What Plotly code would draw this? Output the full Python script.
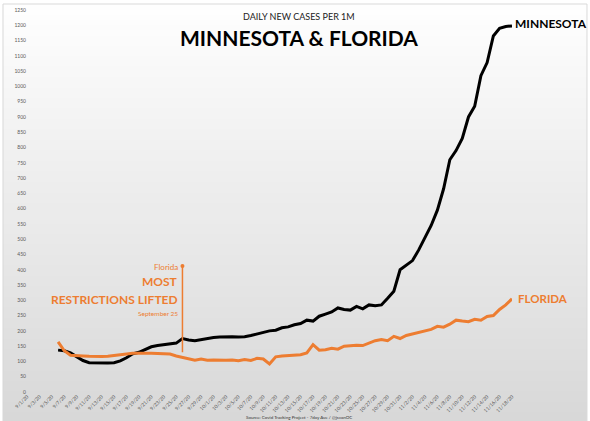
import plotly.graph_objects as go
import pandas as pd

start_date = "2020-09-06"
minnesota = [137, 135, 128, 115, 103, 96, 95, 95, 95, 96, 102, 112, 125, 130, 140, 148, 152, 155, 158, 160,
             175, 170, 168, 172, 175, 178, 180, 181, 181, 180, 181, 185, 190, 195, 200, 202, 210, 213, 220, 224,
             235, 232, 248, 255, 262, 275, 270, 268, 280, 272, 285, 282, 285, 307, 330, 400, 415, 430, 465, 505,
             545, 595, 665, 760, 790, 830, 900, 935, 1035, 1078, 1165, 1190, 1196, 1198]
florida = [164, 135, 120, 118, 118, 117, 116, 116, 117, 120, 122, 126, 127, 127, 128, 127, 126, 125, 124, 118,
           113, 108, 104, 108, 104, 105, 104, 104, 105, 102, 106, 103, 110, 108, 92, 115, 118, 120, 121, 122,
           128, 155, 137, 138, 143, 140, 150, 152, 153, 152, 160, 168, 172, 168, 182, 175, 185, 190, 195, 200,
           205, 215, 212, 222, 235, 232, 230, 238, 235, 247, 250, 270, 285, 305]
dates = pd.date_range(start_date, periods=len(minnesota), freq="D")

axis_start = "2020-09-01"
axis_end = "2020-11-18"
y_ticks = list(range(0, 1251, 50))
event_date = "2020-09-26"
event_top = 412
event_bottom = 130

ORANGE = "#ED7D31"
FONT = "Lato, 'Open Sans', sans-serif"

fig = go.Figure()
fig.add_trace(go.Scatter(x=dates, y=minnesota, mode="lines", name="Minnesota",
                         line=dict(color="#000000", width=3)))
fig.add_trace(go.Scatter(x=dates, y=florida, mode="lines", name="Florida",
                         line=dict(color=ORANGE, width=3)))

# chart-area background: gradient (white -> light gray) inside a thin border
shapes = []
bx0, bx1 = -0.0495, 1.1546
by0, by1 = -0.08, 1.0157
n = 40
for i in range(n):
    t = i / (n - 1)
    c = int(round(254 - (254 - 216) * t))
    y1 = by1 - (by1 - by0) * i / n
    y0 = by1 - (by1 - by0) * (i + 1) / n
    shapes.append(dict(type="rect", xref="paper", yref="paper", x0=bx0, x1=bx1, y0=y0 - 0.002, y1=y1,
                       fillcolor=f"rgb({c},{c},{c})", line=dict(width=0), layer="below"))
shapes.append(dict(type="rect", xref="paper", yref="paper", x0=bx0, x1=bx1, y0=by0, y1=by1,
                   fillcolor="rgba(0,0,0,0)", line=dict(width=1, color="#d9d9d9"), layer="below"))
# event line
shapes.append(dict(type="line", xref="x", yref="y", x0=event_date, x1=event_date,
                   y0=event_bottom, y1=event_top, line=dict(color=ORANGE, width=1.5)))

fig.add_trace(go.Scatter(x=[event_date], y=[event_top], mode="markers",
                         marker=dict(color=ORANGE, size=4), hoverinfo="skip"))

def note(text, x, y, size, color, xref="paper", yref="paper", xanchor="center", xshift=0):
    return dict(text=text, xref=xref, yref=yref, x=x, y=y, xanchor=xanchor, yanchor="middle",
                xshift=xshift, showarrow=False, font=dict(size=size, color=color, family=FONT))

annotations = [
    note("DAILY NEW CASES PER 1M", 0.561, 0.982, 9, "#222222"),
    note("<b>MINNESOTA & FLORIDA</b>", 0.561, 0.927, 21, "#000000"),
    note("<b>MINNESOTA</b>", axis_end, 1205, 12, "#000000", "x", "y", "left", 1),
    note("<b>FLORIDA</b>", axis_end, 307, 11.5, ORANGE, "x", "y", "left", 4),
    note("Florida", event_date, 408, 8, ORANGE, "x", "y", "right", -2),
    note("<b>MOST</b>", event_date, 362, 12, ORANGE, "x", "y", "right", -2),
    note("<b>RESTRICTIONS LIFTED</b>", event_date, 303, 12, ORANGE, "x", "y", "right", -2),
    note("September 25", event_date, 258, 6.5, ORANGE, "x", "y", "right", -2),
    note("Source: Covid Tracking Project - 7day Ave / @jsvanOC", 0.561, -0.068, 4.5, "#333333"),
]

fig.update_layout(
    width=590, height=421,
    margin=dict(l=27, r=78, t=10, b=29),
    paper_bgcolor="#ffffff", plot_bgcolor="rgba(0,0,0,0)",
    showlegend=False,
    shapes=shapes,
    annotations=annotations,
    font=dict(family=FONT),
)
fig.update_xaxes(range=[axis_start, axis_end], type="date", dtick=2 * 86400000, tick0=axis_start,
                 tickformat="%-m/%-d/%y", tickangle=-45, showgrid=False, zeroline=False, showline=False,
                 tickfont=dict(size=5, color="#595959"), ticks="", automargin=False)
fig.update_yaxes(range=[0, 1250], tickvals=y_ticks, showgrid=False, zeroline=False, showline=False,
                 tickfont=dict(size=5, color="#595959"), ticks="", automargin=False)

fig.write_html("out.html", config={"displayModeBar": False},
               post_script="document.body.style.margin='0px';document.body.style.overflow='hidden';")
